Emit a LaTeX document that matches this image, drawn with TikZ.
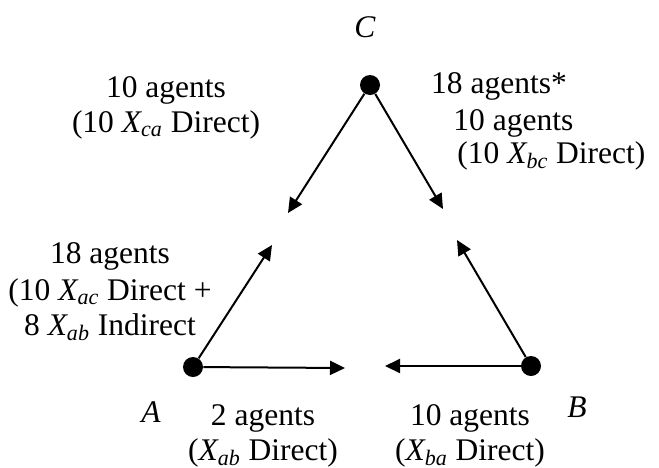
\documentclass[tikz,border=0pt]{standalone}
\usepackage{fontspec}
\setmainfont{Liberation Serif}
\usetikzlibrary{arrows.meta}
\newcommand{\Xs}[1]{\textit{X\textsubscript{#1}}}

\tikzset{
  agent/.style={circle,fill=black,inner sep=0pt,minimum size=10pt},
  flow/.style={line width=1pt,-{Triangle[length=7.5pt,width=7pt]}},
  lbl/.style={font=\fontsize{15.75}{17.5}\selectfont,inner sep=0pt,anchor=base}
}

\begin{document}
\begin{tikzpicture}[x=0.5pt,y=-0.5pt]
  \useasboundingbox (0,0) rectangle (659,467);
  % the three agent sites
  \node[agent] (C) at (370,85) {};
  \node[agent] (A) at (193,367) {};
  \node[agent] (B) at (531,366) {};
  % free ends of the flows
  \coordinate (tipCA) at (288,213);
  \coordinate (tipCB) at (443,209);
  \coordinate (tipAC) at (272,245);
  \coordinate (tipAB) at (345,368);
  \coordinate (tipBC) at (457,240);
  \coordinate (tipBA) at (385,366);
  \draw[flow] (C) -- (tipCA);
  \draw[flow] (C) -- (tipCB);
  \draw[flow] (A) -- (tipAC);
  \draw[flow] (A) -- (tipAB);
  \draw[flow] (B) -- (tipBC);
  \draw[flow] (B) -- (tipBA);
  % names and counts (base = last line)
  \node[lbl] (nameC) at (365,37) {\textit{C}};
  \node[lbl] (nameA) at (151,422) {\textit{A}};
  \node[lbl] (nameB) at (577,417) {\textit{B}};
  \node[lbl,align=center] (cntCA) at (166,132) {10 agents\\(10 \Xs{ca} Direct)};
  \node[lbl] (cntStar) at (499,93) {18 agents*};
  \node[lbl,anchor=base west,align=left] (cntCB) at (453,163)
    {10 agents\\[-1pt]\hspace*{2pt}(10 \Xs{bc} Direct)};
  \node[lbl,align=center] (cntAC) at (110,335)
    {18 agents\\[1pt](10 \Xs{ac} Direct +\\8 \Xs{ab} Indirect};
  \node[lbl,align=center] (cntAB) at (263,460) {2 agents\\(\Xs{ab} Direct)};
  \node[lbl,align=center] (cntBA) at (470,460) {10 agents\\(\Xs{ba} Direct)};
\end{tikzpicture}
\end{document}
